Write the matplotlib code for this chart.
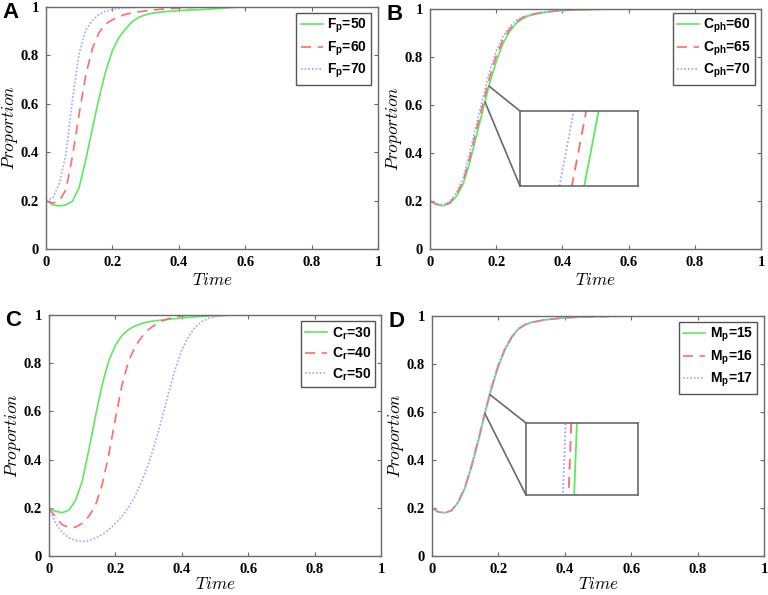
import numpy as np
import matplotlib
matplotlib.use("Agg")
import matplotlib.pyplot as plt
from matplotlib.patches import ConnectionPatch

plt.rcParams["font.family"] = "serif"
plt.rcParams["font.serif"] = ["Liberation Serif", "DejaVu Serif"]
plt.rcParams["font.weight"] = "bold"
plt.rcParams["mathtext.fontset"] = "custom"
plt.rcParams["mathtext.rm"] = "Liberation Sans:bold"
plt.rcParams["mathtext.it"] = "Liberation Sans:bold"
plt.rcParams["mathtext.bf"] = "Liberation Sans:bold"

# shared time grid
T = [0.00, 0.02, 0.04, 0.06, 0.08, 0.10, 0.12, 0.14, 0.16, 0.18,
     0.20, 0.22, 0.24, 0.26, 0.28, 0.30, 0.32, 0.34, 0.36, 0.38,
     0.40, 0.42, 0.44, 0.46, 0.48, 0.50, 0.52, 0.54, 0.56, 0.58,
     0.60, 0.70, 0.80, 0.90, 1.00]

# panel A: F_p
a_labels = ["F$_\\mathrm{p}$=50", "F$_\\mathrm{p}$=60", "F$_\\mathrm{p}$=70"]
a_fp50 = [0.200, 0.183, 0.178, 0.182, 0.198, 0.255, 0.370, 0.500, 0.625, 0.735,
          0.820, 0.875, 0.910, 0.940, 0.958, 0.968, 0.974, 0.978, 0.981, 0.983,
          0.985, 0.987, 0.988, 0.989, 0.990, 0.992, 0.994, 0.996, 0.998, 0.999,
          1.000, 1.000, 1.000, 1.000, 1.000]
a_fp60 = [0.200, 0.190, 0.198, 0.245, 0.385, 0.560, 0.720, 0.830, 0.895, 0.930,
          0.947, 0.960, 0.970, 0.976, 0.980, 0.984, 0.987, 0.990, 0.992, 0.994,
          0.995, 0.997, 0.998, 0.999, 1.000, 1.000, 1.000, 1.000, 1.000, 1.000,
          1.000, 1.000, 1.000, 1.000, 1.000]
a_fp70 = [0.200, 0.210, 0.270, 0.390, 0.620, 0.810, 0.905, 0.945, 0.970, 0.983,
          0.990, 0.994, 0.996, 0.998, 0.999, 1.000, 1.000, 1.000, 1.000, 1.000,
          1.000, 1.000, 1.000, 1.000, 1.000, 1.000, 1.000, 1.000, 1.000, 1.000,
          1.000, 1.000, 1.000, 1.000, 1.000]

# panel B: C_ph
b_labels = ["C$_\\mathrm{ph}$=60", "C$_\\mathrm{ph}$=65", "C$_\\mathrm{ph}$=70"]
b_cph60 = [0.200, 0.185, 0.180, 0.190, 0.220, 0.270, 0.360, 0.470, 0.580, 0.690,
           0.780, 0.855, 0.905, 0.940, 0.960, 0.972, 0.979, 0.984, 0.988, 0.991,
           0.993, 0.995, 0.996, 0.997, 0.998, 0.998, 0.999, 0.999, 1.000, 1.000,
           1.000, 1.000, 1.000, 1.000, 1.000]
b_cph65 = [0.200, 0.186, 0.182, 0.194, 0.228, 0.283, 0.380, 0.495, 0.605, 0.715,
           0.803, 0.870, 0.915, 0.946, 0.964, 0.975, 0.981, 0.986, 0.989, 0.992,
           0.994, 0.995, 0.997, 0.998, 0.998, 0.999, 0.999, 1.000, 1.000, 1.000,
           1.000, 1.000, 1.000, 1.000, 1.000]
b_cph70 = [0.200, 0.188, 0.185, 0.198, 0.235, 0.295, 0.400, 0.520, 0.630, 0.740,
           0.825, 0.885, 0.925, 0.952, 0.968, 0.977, 0.983, 0.987, 0.990, 0.992,
           0.994, 0.995, 0.997, 0.998, 0.998, 0.999, 0.999, 1.000, 1.000, 1.000,
           1.000, 1.000, 1.000, 1.000, 1.000]

# panel C: C_r
c_labels = ["C$_\\mathrm{r}$=30", "C$_\\mathrm{r}$=40", "C$_\\mathrm{r}$=50"]
c_cr30 = [0.200, 0.185, 0.180, 0.190, 0.230, 0.310, 0.440, 0.580, 0.710, 0.810,
          0.875, 0.915, 0.940, 0.955, 0.965, 0.972, 0.976, 0.979, 0.982, 0.985,
          0.988, 0.990, 0.992, 0.994, 0.996, 0.997, 0.998, 0.999, 1.000, 1.000,
          1.000, 1.000, 1.000, 1.000, 1.000]
c_cr40 = [0.200, 0.160, 0.130, 0.118, 0.120, 0.135, 0.165, 0.210, 0.295, 0.420,
          0.570, 0.710, 0.810, 0.870, 0.910, 0.940, 0.960, 0.975, 0.985, 0.992,
          0.997, 1.000, 1.000, 1.000, 1.000, 1.000, 1.000, 1.000, 1.000, 1.000,
          1.000, 1.000, 1.000, 1.000, 1.000]
c_cr50 = [0.200, 0.135, 0.098, 0.076, 0.064, 0.060, 0.064, 0.074, 0.089, 0.109,
          0.135, 0.165, 0.203, 0.250, 0.312, 0.385, 0.470, 0.570, 0.675, 0.775,
          0.855, 0.910, 0.950, 0.972, 0.986, 0.993, 0.997, 0.999, 1.000, 1.000,
          1.000, 1.000, 1.000, 1.000, 1.000]

# panel D: M_p
d_labels = ["M$_\\mathrm{p}$=15", "M$_\\mathrm{p}$=16", "M$_\\mathrm{p}$=17"]
d_mp15 = [0.200, 0.183, 0.180, 0.190, 0.225, 0.285, 0.375, 0.480, 0.595, 0.700,
          0.790, 0.860, 0.910, 0.945, 0.963, 0.973, 0.979, 0.984, 0.987, 0.990,
          0.992, 0.994, 0.995, 0.996, 0.997, 0.998, 0.998, 0.999, 0.999, 1.000,
          1.000, 1.000, 1.000, 1.000, 1.000]
d_mp16 = [0.200, 0.183, 0.180, 0.191, 0.228, 0.289, 0.381, 0.486, 0.601, 0.706,
          0.796, 0.864, 0.912, 0.946, 0.964, 0.973, 0.979, 0.984, 0.987, 0.990,
          0.992, 0.994, 0.995, 0.996, 0.997, 0.998, 0.998, 0.999, 0.999, 1.000,
          1.000, 1.000, 1.000, 1.000, 1.000]
d_mp17 = [0.200, 0.184, 0.181, 0.192, 0.231, 0.293, 0.387, 0.492, 0.607, 0.712,
          0.802, 0.868, 0.915, 0.948, 0.965, 0.974, 0.979, 0.984, 0.987, 0.990,
          0.992, 0.994, 0.995, 0.996, 0.997, 0.998, 0.998, 0.999, 0.999, 1.000,
          1.000, 1.000, 1.000, 1.000, 1.000]

TICKS = [0, 0.2, 0.4, 0.6, 0.8, 1.0]
TICK_LABELS = ["0", "0.2", "0.4", "0.6", "0.8", "1"]

COLORS = ["#5ee85e", "#ff6b6b", "#a3a3ff"]
STYLES = ["-", (0, (6, 4)), (0, (1, 1.2))]
FRAME = "#6a6a6a"

W, H = 768, 595
fig = plt.figure(figsize=(W / 100, H / 100), dpi=100)


def px_rect(x0, y0, x1, y1):
    return [x0 / W, 1 - y1 / H, (x1 - x0) / W, (y1 - y0) / H]


def draw_panel(rect, series, labels, letter, legend_px, xpad=3):
    ax = fig.add_axes(px_rect(*rect))
    for y, lab, c, ls in zip(series, labels, COLORS, STYLES):
        ax.plot(T, y, color=c, linestyle=ls, linewidth=1.2, label=lab)
    ax.set_xlim(0, 1)
    ax.set_ylim(0, 1)
    ax.set_xticks(TICKS)
    ax.set_xticklabels(TICK_LABELS)
    ax.set_yticks(TICKS)
    ax.set_yticklabels(TICK_LABELS)
    ax.tick_params(direction="in", length=3, width=0.8, color=FRAME,
                   top=True, right=True, labelsize=10.5, pad=5)
    for sp in ax.spines.values():
        sp.set_color(FRAME)
        sp.set_linewidth(1.0)
    ax.set_xlabel(r"$Time$", fontsize=12.5, math_fontfamily="cm", labelpad=xpad)
    ax.set_ylabel(r"$Proportion$", fontsize=12.5, math_fontfamily="cm", labelpad=0.5)
    lx0, ly0, lx1, ly1 = legend_px
    x0, y0, x1, y1 = rect
    anchor = ((lx1 - x0) / (x1 - x0), (y1 - ly0) / (y1 - y0))
    leg = ax.legend(loc="upper right", bbox_to_anchor=anchor, borderaxespad=0,
                    prop={"family": "Liberation Sans", "weight": "bold", "size": 10},
                    frameon=True, fancybox=False, framealpha=1, handlelength=1.6,
                    labelspacing=0.3, borderpad=0.3, handletextpad=0.3)
    leg.get_frame().set_edgecolor("#555555")
    leg.get_frame().set_linewidth(1.0)
    fig.text((x0 - 44) / W, 1 - (y0 - 5) / H, letter, fontsize=16, fontweight="bold",
             family="Liberation Sans", va="top", ha="left")
    return ax


def add_zoom(ax, series, rect, xlim, ylim, t_low, t_high):
    ins = fig.add_axes(px_rect(*rect))
    for y, c, ls in zip(series, COLORS, STYLES):
        ins.plot(T, y, color=c, linestyle=ls, linewidth=1.3)
    ins.set_xlim(*xlim)
    ins.set_ylim(*ylim)
    ins.set_xticks([])
    ins.set_yticks([])
    for sp in ins.spines.values():
        sp.set_color(FRAME)
        sp.set_linewidth(1.2)
    base = series[0]
    for t, corner in ((t_high, (0, 1)), (t_low, (0, 0))):
        con = ConnectionPatch(xyA=(t, np.interp(t, T, base)), coordsA=ax.transData,
                              xyB=corner, coordsB=ins.transAxes,
                              color=FRAME, linewidth=1.2)
        fig.add_artist(con)


ax_a = draw_panel((46, 7, 378, 249), [a_fp50, a_fp60, a_fp70], a_labels, "A",
                  (304, 13, 371, 81))
ax_b = draw_panel((430, 9, 761, 249), [b_cph60, b_cph65, b_cph70], b_labels, "B",
                  (680, 13, 755, 83))
ax_c = draw_panel((49, 315, 381, 556), [c_cr30, c_cr40, c_cr50], c_labels, "C",
                  (306, 321, 375, 389), xpad=0.5)
ax_d = draw_panel((432, 316, 764, 556), [d_mp15, d_mp16, d_mp17], d_labels, "D",
                  (686, 322, 757, 390), xpad=0.5)

add_zoom(ax_b, [b_cph60, b_cph65, b_cph70], (520, 111, 638, 186),
         (0.1437, 0.1870), (0.620, 0.649), 0.166, 0.178)
add_zoom(ax_d, [d_mp15, d_mp16, d_mp17], (526, 423, 638, 495),
         (0.1550, 0.1777), (0.620, 0.6229), 0.1596, 0.1747)

fig.savefig("out.png", dpi=100)
